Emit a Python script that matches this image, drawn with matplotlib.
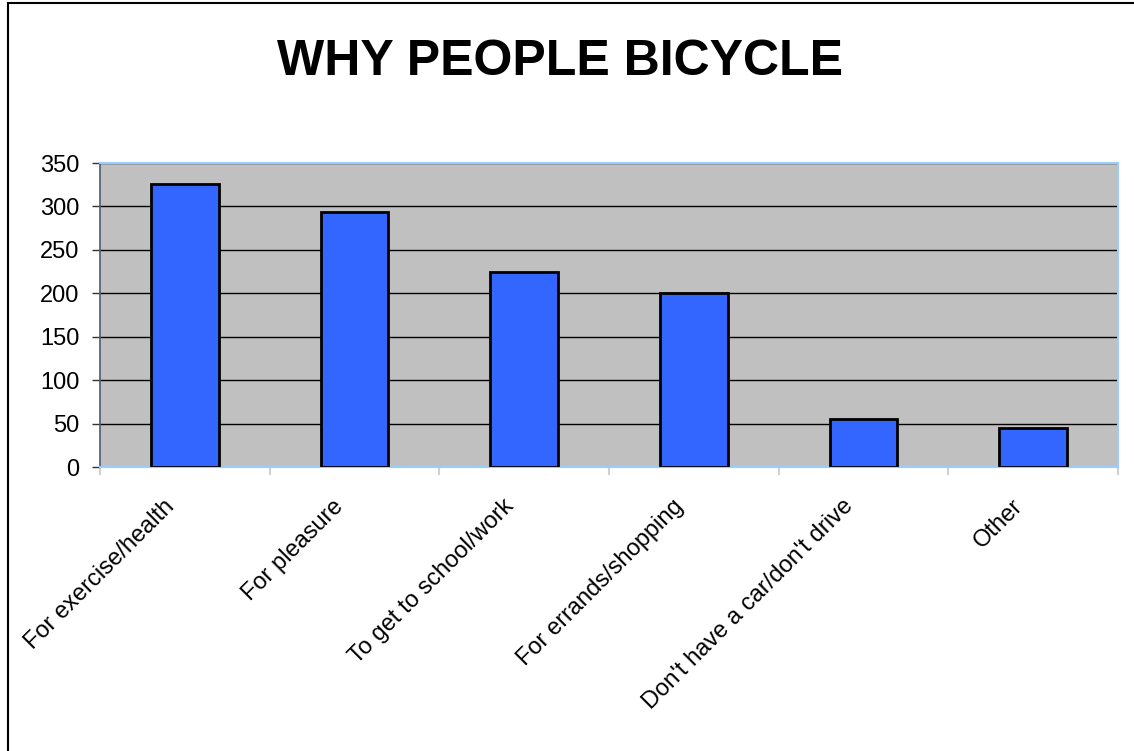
import matplotlib
matplotlib.use("Agg")
import matplotlib.pyplot as plt
from matplotlib.lines import Line2D
import matplotlib.transforms as mtransforms
import numpy as np

plt.rcParams['font.family'] = ['Liberation Sans', 'DejaVu Sans']

categories = ["For exercise/health", "For pleasure", "To get to school/work",
              "For errands/shopping", "Don't have a car/don't drive", "Other"]
values = [326, 294, 225, 200, 55, 45]
yticks = [0, 50, 100, 150, 200, 250, 300, 350]
title = "WHY PEOPLE BICYCLE"

fig = plt.figure(figsize=(11.34, 7.51), dpi=100)
ax = fig.add_axes([100/1134, 1-467/751, 1018/1134, 304/751])
ax.set_facecolor('#C0C0C0')

x = np.arange(len(categories))
ax.bar(x, values, width=0.40, color='#3366FF', edgecolor='black', linewidth=2, zorder=3)

ax.set_xlim(-0.5, len(categories)-0.5)
ax.set_ylim(0, 350)
ax.set_yticks(yticks)
ax.set_yticklabels([str(v) for v in yticks], fontsize=17)
ax.yaxis.grid(True, color='black', linewidth=1, zorder=1)
ax.set_axisbelow(True)

ax.set_xticks(x)
ax.set_xticklabels(categories, rotation=45, ha='right', va='center', rotation_mode='anchor', fontsize=17)
ax.tick_params(axis='x', length=0, pad=26)
offset = mtransforms.ScaledTranslation(-14/100, 0, fig.dpi_scale_trans)
for lbl in ax.get_xticklabels():
    lbl.set_transform(lbl.get_transform() + offset)
ax.set_xticks(np.arange(len(categories)+1) - 0.5, minor=True)
ax.tick_params(axis='x', which='minor', length=6, color='#D0D0D0', width=1.5)
ax.tick_params(axis='y', length=6, color='#333333', width=1, pad=9)

for s in ['top', 'right', 'bottom']:
    ax.spines[s].set_color('#99CCFF')
    ax.spines[s].set_linewidth(1.5)
ax.spines['left'].set_color('#4A5A70')
ax.spines['left'].set_linewidth(1.2)

fig.text(560/1134, 1-62/751, title, ha='center', va='center', fontsize=36, fontweight='bold')

fig.add_artist(Line2D([8/1134, 8/1134], [0, 1-3/751], transform=fig.transFigure, color='black', linewidth=1.5))
fig.add_artist(Line2D([8/1134, 1], [1-3/751, 1-3/751], transform=fig.transFigure, color='black', linewidth=1.5))

fig.savefig('out.png', dpi=100)
